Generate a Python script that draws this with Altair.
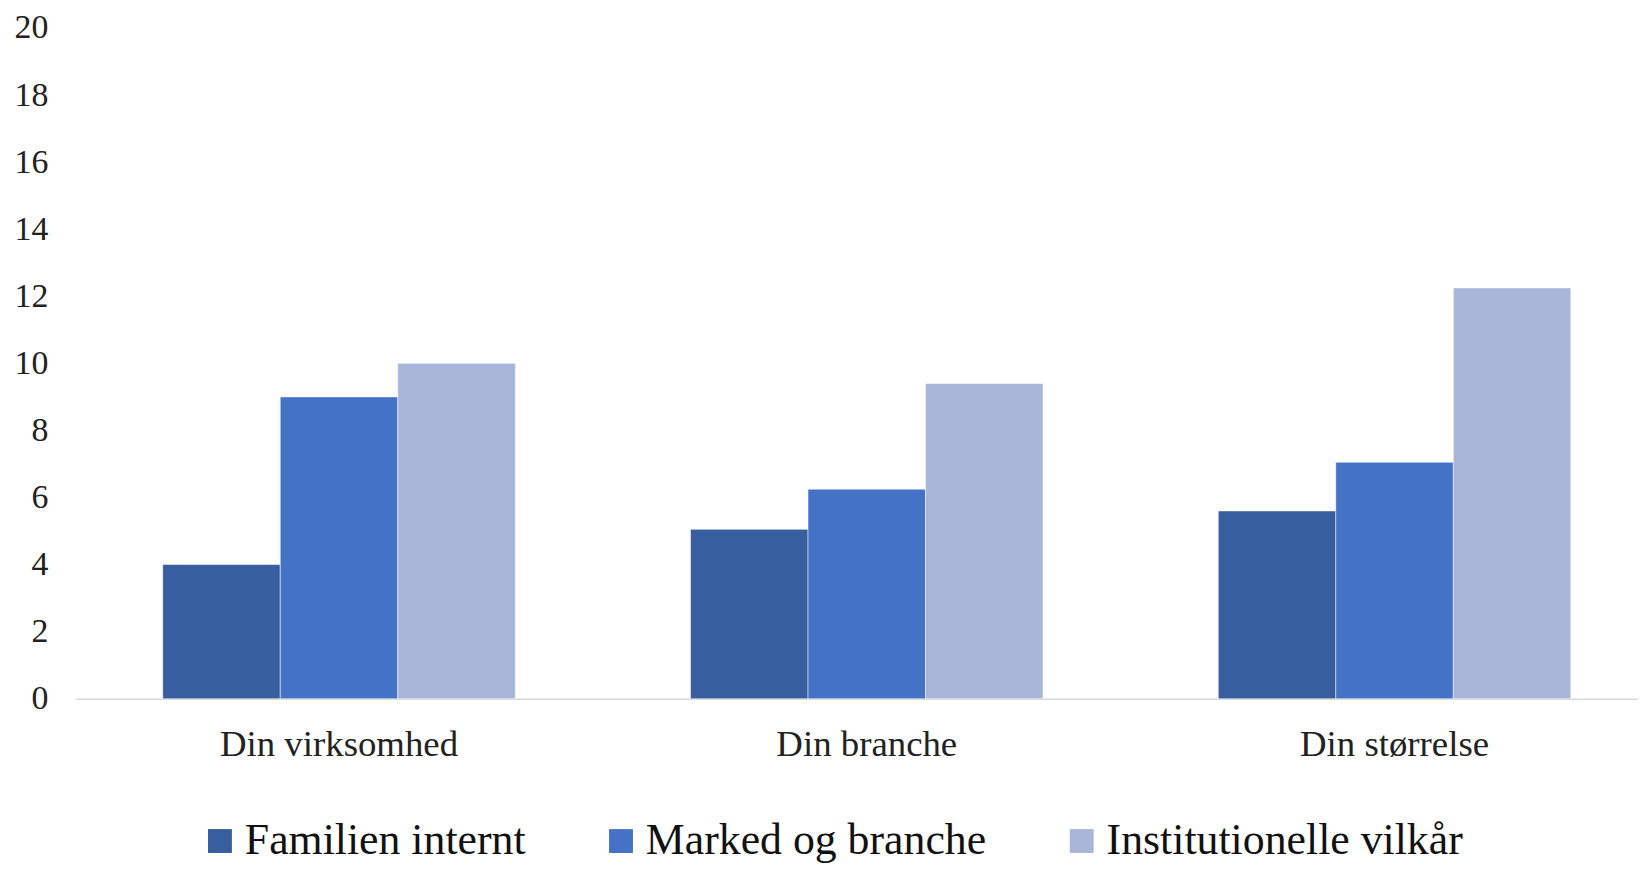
import altair as alt
import pandas as pd

categories = ["Din virksomhed", "Din branche", "Din størrelse"]
series = ["Familien internt", "Marked og branche", "Institutionelle vilkår"]
familien = [4.0, 5.05, 5.6]
marked = [9.0, 6.25, 7.05]
institutionelle = [10.0, 9.4, 12.25]
y_ticks = [0, 2, 4, 6, 8, 10, 12, 14, 16, 18, 20]
colors = ["#375E9F", "#4472C4", "#A9B5D9"]

rows = []
for s, vals in zip(series, [familien, marked, institutionelle]):
    for c, v in zip(categories, vals):
        rows.append({"kategori": c, "serie": s, "værdi": v})
df = pd.DataFrame(rows)

FONT = "Liberation Serif"

chart = (
    alt.Chart(df)
    .mark_bar(stroke="#ffffff", strokeOpacity=0.5, strokeWidth=1)
    .encode(
        x=alt.X(
            "kategori:N",
            sort=categories,
            scale=alt.Scale(range=[0, 1590], paddingInner=0.332, paddingOuter=0.165),
            axis=alt.Axis(
                title=None,
                labelAngle=0,
                ticks=False,
                labelPadding=28,
                labelFont=FONT,
                labelFontSize=37,
                labelLimit=600,
                labelColor="#222222",
                domainColor="#D9D9D9",
                domainWidth=1.5,
                grid=False,
            ),
        ),
        xOffset=alt.XOffset("serie:N", sort=series, scale=alt.Scale(paddingInner=0, paddingOuter=0)),
        y=alt.Y(
            "værdi:Q",
            scale=alt.Scale(domain=[0, 20], nice=False),
            axis=alt.Axis(
                title=None,
                values=y_ticks,
                ticks=False,
                domain=False,
                grid=False,
                labelPadding=28,
                labelFont=FONT,
                labelFontSize=34,
                labelColor="#222222",
            ),
        ),
        color=alt.Color(
            "serie:N",
            sort=series,
            scale=alt.Scale(domain=series, range=colors),
            legend=alt.Legend(
                title=None,
                orient="none",
                legendX=123,
                legendY=795,
                direction="horizontal",
                symbolType="square",
                symbolSize=576,
                symbolStrokeWidth=0,
                labelFont=FONT,
                labelFontSize=44,
                labelColor="#111111",
                labelLimit=800,
                labelOffset=3,
                columnPadding=73,
            ),
        ),
    )
    .properties(
        width=1570,
        height=674,
        autosize=alt.AutoSizeParams(type="none"),
        padding={"left": 68, "top": 18, "right": 0, "bottom": 169},
    )
    .configure_view(stroke=None)
)

chart.save("out.html", embed_options={"renderer": "svg", "actions": False})
